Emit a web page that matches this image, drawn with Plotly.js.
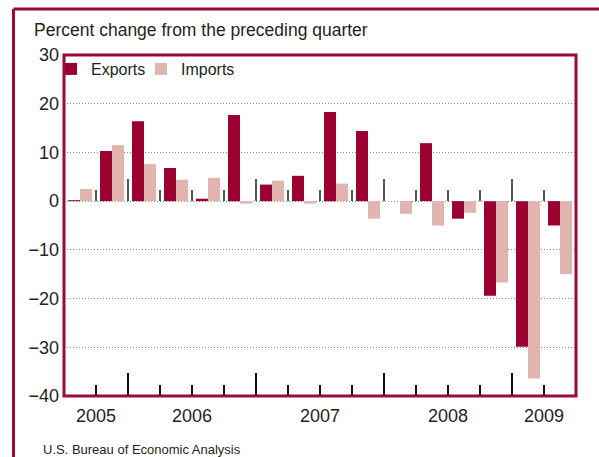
<!DOCTYPE html>
<html>
<head>
<meta charset="utf-8">
<script src="https://cdn.plot.ly/plotly-3.0.1.min.js"></script>
<style>html,body{margin:0;padding:0;background:#fff;}#chart{width:599px;height:457px;}</style>
</head>
<body>
<div id="chart"></div>
<script>
// ---- data ----
const quarters = ['2005 Q3','2005 Q4','2006 Q1','2006 Q2','2006 Q3','2006 Q4',
                  '2007 Q1','2007 Q2','2007 Q3','2007 Q4','2008 Q1','2008 Q2',
                  '2008 Q3','2008 Q4','2009 Q1','2009 Q2'];
const exportsPct = [0.2, 10.3, 16.4, 6.8, 0.5, 17.7, 3.4, 5.2, 18.3, 14.4, 0.0, 11.9, -3.6, -19.4, -29.9, -5.0];
const importsPct = [2.5, 11.5, 7.6, 4.4, 4.8, -0.5, 4.2, -0.5, 3.6, -3.6, -2.6, -5.0, -2.4, -16.7, -36.4, -15.0];
const yearLabels = ['2005','2006','2007','2008','2009'];
const quartersPerYear = [2, 4, 4, 4, 2];
const yTicks = [-40,-30,-20,-10,0,10,20,30];

// ---- derived positions ----
const xIdx = quarters.map((q,i)=>i);
const qBounds = xIdx.slice(1).map(i=>i-0.5);
const yearCenters = [], yearBounds = [];
let acc = 0;
quartersPerYear.forEach((n,k)=>{ yearCenters.push(acc + n/2 - 0.5); acc += n; if(k<quartersPerYear.length-1) yearBounds.push(acc-0.5); });
const xRange = [-0.5, quarters.length-0.5];
const yRange = [-40, 30];

const W=599, H=457, L=64, R=23, T=55, B=61;
const pw=W-L-R, ph=H-T-B;
const px2x = p => (p-L)/pw;
const py2y = p => (H-B-p)/ph;
const zeroPos = (0-yRange[0])/(yRange[1]-yRange[0]);

const FONT = 'Liberation Sans, Arial, sans-serif';
const TXT = '#231f20';
const RED = '#9b0a34';

const traces = [
  {type:'bar', name:'Exports', legend:'legend', x:xIdx, y:exportsPct, text:quarters, textposition:'none',
   hovertemplate:'%{text}: %{y}<extra>Exports</extra>', marker:{color:'#9b0030', line:{width:0}}},
  {type:'bar', name:'Imports', legend:'legend2', x:xIdx, y:importsPct, text:quarters, textposition:'none',
   hovertemplate:'%{text}: %{y}<extra>Imports</extra>', marker:{color:'#e1b4ae', line:{width:0}}}
];
// empty helper traces so the overlaying tick/label axes get drawn
['x2','x3','x4','x5'].forEach(ax=>{
  traces.push({type:'scatter', mode:'markers', x:[null], y:[null], xaxis:ax, yaxis:'y', showlegend:false, hoverinfo:'skip'});
});

const baseX = {type:'linear', range:xRange, showgrid:false, zeroline:false, showline:false, fixedrange:true};
const legendBase = {orientation:'h', yanchor:'top', xanchor:'left', y:py2y(52),
          font:{size:16, family:FONT, color:TXT}, bgcolor:'rgba(0,0,0,0)', itemwidth:30};

const layout = {
  width:W, height:H,
  margin:{l:L, r:R, t:T, b:B, pad:0},
  paper_bgcolor:'#fff', plot_bgcolor:'#fff',
  font:{family:FONT, color:TXT},
  barmode:'group', bargap:0.25, bargroupgap:0,
  showlegend:true,
  legend: Object.assign({}, legendBase, {x:px2x(51)}),
  legend2: Object.assign({}, legendBase, {x:px2x(141)}),
  title:{text:'Percent change from the preceding quarter', xref:'container', yref:'container',
         x:34/W, xanchor:'left', y:1-30/H, yanchor:'middle',
         font:{size:17.5, family:FONT, color:TXT}},
  xaxis: Object.assign({}, baseX, {tickmode:'array', tickvals:qBounds, ticks:'inside', ticklen:11, tickwidth:1.3, tickcolor:'#111', showticklabels:false}),
  xaxis2: Object.assign({}, baseX, {overlaying:'x', anchor:'y', side:'bottom', tickmode:'array', tickvals:yearBounds, ticks:'inside', ticklen:23, tickwidth:1.3, tickcolor:'#111', showticklabels:false}),
  xaxis3: Object.assign({}, baseX, {overlaying:'x', anchor:'y', side:'bottom', tickmode:'array', tickvals:yearCenters, ticktext:yearLabels, ticks:'', showticklabels:true, ticklabelstandoff:7, tickfont:{size:18, family:FONT, color:TXT}}),
  xaxis4: Object.assign({}, baseX, {overlaying:'x', anchor:'free', position:zeroPos, side:'top', tickmode:'array', tickvals:qBounds, ticks:'outside', ticklen:11, tickwidth:1.3, tickcolor:'#555', showticklabels:false}),
  xaxis5: Object.assign({}, baseX, {overlaying:'x', anchor:'free', position:zeroPos, side:'top', tickmode:'array', tickvals:yearBounds, ticks:'outside', ticklen:22, tickwidth:1.3, tickcolor:'#555', showticklabels:false}),
  yaxis:{range:yRange, tickmode:'array', tickvals:yTicks, ticks:'', showline:false, zeroline:false,
         showgrid:true, gridcolor:'#8a8a8a', gridwidth:1, griddash:'1px,2px',
         tickfont:{size:18, family:FONT, color:TXT}, ticklabelstandoff:4, fixedrange:true},
  shapes:[
    {type:'rect', xref:'paper', yref:'paper', x0:0, x1:1, y0:0, y1:1, line:{color:RED, width:3}, layer:'above'},
    {type:'line', xref:'paper', yref:'paper', x0:px2x(13.5), x1:px2x(602), y0:py2y(9), y1:py2y(9), line:{color:RED, width:3}},
    {type:'line', xref:'paper', yref:'paper', x0:px2x(13.5), x1:px2x(13.5), y0:py2y(9), y1:py2y(460), line:{color:RED, width:3}}
  ],
  annotations:[
    {text:'U.S. Bureau of Economic Analysis', xref:'paper', yref:'paper', x:px2x(41), y:py2y(449),
     xanchor:'left', yanchor:'middle', showarrow:false, font:{size:13, family:FONT, color:TXT}}
  ]
};

Plotly.newPlot('chart', traces, layout, {displayModeBar:false, staticPlot:true});
</script>
</body>
</html>
